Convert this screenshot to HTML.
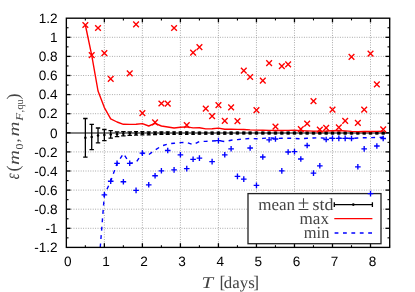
<!DOCTYPE html>
<html><head><meta charset="utf-8"><title>plot</title>
<style>html,body{margin:0;padding:0;background:#fff;}svg{display:block;will-change:transform;}text{font-family:"Liberation Sans",sans-serif;text-rendering:geometricPrecision;}.s{font-family:"Liberation Serif",serif;}</style></head><body>
<svg width="415" height="292" viewBox="0 0 415 292">
<rect width="415" height="292" fill="#fff"/>
<g stroke="#8c8c8c" stroke-width="0.8" stroke-dasharray="0.9 1.5" fill="none">
<line x1="104.37" y1="18.2" x2="104.37" y2="247.4"/>
<line x1="142.39" y1="18.2" x2="142.39" y2="247.4"/>
<line x1="180.41" y1="18.2" x2="180.41" y2="247.4"/>
<line x1="218.43" y1="18.2" x2="218.43" y2="247.4"/>
<line x1="256.45" y1="18.2" x2="256.45" y2="247.4"/>
<line x1="294.47" y1="18.2" x2="294.47" y2="247.4"/>
<line x1="332.49" y1="18.2" x2="332.49" y2="247.4"/>
<line x1="370.51" y1="18.2" x2="370.51" y2="247.4"/>
<line x1="66.35" y1="37.30" x2="389.7" y2="37.30"/>
<line x1="66.35" y1="56.40" x2="389.7" y2="56.40"/>
<line x1="66.35" y1="75.50" x2="389.7" y2="75.50"/>
<line x1="66.35" y1="94.60" x2="389.7" y2="94.60"/>
<line x1="66.35" y1="113.70" x2="389.7" y2="113.70"/>
<line x1="66.35" y1="132.80" x2="389.7" y2="132.80"/>
<line x1="66.35" y1="151.90" x2="389.7" y2="151.90"/>
<line x1="66.35" y1="171.00" x2="389.7" y2="171.00"/>
<line x1="66.35" y1="190.10" x2="389.7" y2="190.10"/>
<line x1="66.35" y1="209.20" x2="389.7" y2="209.20"/>
<line x1="66.35" y1="228.30" x2="389.7" y2="228.30"/>
</g>
<line x1="66.35" y1="133.00" x2="389.7" y2="133.00" stroke="#808080" stroke-width="1.8"/>
<g stroke="#000" stroke-width="1.3" fill="none">
<line x1="104.37" y1="247.4" x2="104.37" y2="243.20000000000002"/><line x1="104.37" y1="18.2" x2="104.37" y2="22.4"/>
<line x1="142.39" y1="247.4" x2="142.39" y2="243.20000000000002"/><line x1="142.39" y1="18.2" x2="142.39" y2="22.4"/>
<line x1="180.41" y1="247.4" x2="180.41" y2="243.20000000000002"/><line x1="180.41" y1="18.2" x2="180.41" y2="22.4"/>
<line x1="218.43" y1="247.4" x2="218.43" y2="243.20000000000002"/><line x1="218.43" y1="18.2" x2="218.43" y2="22.4"/>
<line x1="256.45" y1="247.4" x2="256.45" y2="243.20000000000002"/><line x1="256.45" y1="18.2" x2="256.45" y2="22.4"/>
<line x1="294.47" y1="247.4" x2="294.47" y2="243.20000000000002"/><line x1="294.47" y1="18.2" x2="294.47" y2="22.4"/>
<line x1="332.49" y1="247.4" x2="332.49" y2="243.20000000000002"/><line x1="332.49" y1="18.2" x2="332.49" y2="22.4"/>
<line x1="370.51" y1="247.4" x2="370.51" y2="243.20000000000002"/><line x1="370.51" y1="18.2" x2="370.51" y2="22.4"/>
<line x1="66.35" y1="37.30" x2="70.55" y2="37.30"/><line x1="389.7" y1="37.30" x2="385.5" y2="37.30"/>
<line x1="66.35" y1="56.40" x2="70.55" y2="56.40"/><line x1="389.7" y1="56.40" x2="385.5" y2="56.40"/>
<line x1="66.35" y1="75.50" x2="70.55" y2="75.50"/><line x1="389.7" y1="75.50" x2="385.5" y2="75.50"/>
<line x1="66.35" y1="94.60" x2="70.55" y2="94.60"/><line x1="389.7" y1="94.60" x2="385.5" y2="94.60"/>
<line x1="66.35" y1="113.70" x2="70.55" y2="113.70"/><line x1="389.7" y1="113.70" x2="385.5" y2="113.70"/>
<line x1="66.35" y1="132.80" x2="70.55" y2="132.80"/><line x1="389.7" y1="132.80" x2="385.5" y2="132.80"/>
<line x1="66.35" y1="151.90" x2="70.55" y2="151.90"/><line x1="389.7" y1="151.90" x2="385.5" y2="151.90"/>
<line x1="66.35" y1="171.00" x2="70.55" y2="171.00"/><line x1="389.7" y1="171.00" x2="385.5" y2="171.00"/>
<line x1="66.35" y1="190.10" x2="70.55" y2="190.10"/><line x1="389.7" y1="190.10" x2="385.5" y2="190.10"/>
<line x1="66.35" y1="209.20" x2="70.55" y2="209.20"/><line x1="389.7" y1="209.20" x2="385.5" y2="209.20"/>
<line x1="66.35" y1="228.30" x2="70.55" y2="228.30"/><line x1="389.7" y1="228.30" x2="385.5" y2="228.30"/>
</g>
<g stroke="#000" stroke-width="1.1" fill="none">
<line x1="85.36" y1="247.4" x2="85.36" y2="245.20000000000002"/><line x1="85.36" y1="18.2" x2="85.36" y2="20.4"/>
<line x1="123.38" y1="247.4" x2="123.38" y2="245.20000000000002"/><line x1="123.38" y1="18.2" x2="123.38" y2="20.4"/>
<line x1="161.40" y1="247.4" x2="161.40" y2="245.20000000000002"/><line x1="161.40" y1="18.2" x2="161.40" y2="20.4"/>
<line x1="199.42" y1="247.4" x2="199.42" y2="245.20000000000002"/><line x1="199.42" y1="18.2" x2="199.42" y2="20.4"/>
<line x1="237.44" y1="247.4" x2="237.44" y2="245.20000000000002"/><line x1="237.44" y1="18.2" x2="237.44" y2="20.4"/>
<line x1="275.46" y1="247.4" x2="275.46" y2="245.20000000000002"/><line x1="275.46" y1="18.2" x2="275.46" y2="20.4"/>
<line x1="313.48" y1="247.4" x2="313.48" y2="245.20000000000002"/><line x1="313.48" y1="18.2" x2="313.48" y2="20.4"/>
<line x1="351.50" y1="247.4" x2="351.50" y2="245.20000000000002"/><line x1="351.50" y1="18.2" x2="351.50" y2="20.4"/>
<line x1="389.52" y1="247.4" x2="389.52" y2="245.20000000000002"/><line x1="389.52" y1="18.2" x2="389.52" y2="20.4"/>
<line x1="66.35" y1="27.75" x2="68.55" y2="27.75"/><line x1="389.7" y1="27.75" x2="387.5" y2="27.75"/>
<line x1="66.35" y1="46.85" x2="68.55" y2="46.85"/><line x1="389.7" y1="46.85" x2="387.5" y2="46.85"/>
<line x1="66.35" y1="65.95" x2="68.55" y2="65.95"/><line x1="389.7" y1="65.95" x2="387.5" y2="65.95"/>
<line x1="66.35" y1="85.05" x2="68.55" y2="85.05"/><line x1="389.7" y1="85.05" x2="387.5" y2="85.05"/>
<line x1="66.35" y1="104.15" x2="68.55" y2="104.15"/><line x1="389.7" y1="104.15" x2="387.5" y2="104.15"/>
<line x1="66.35" y1="123.25" x2="68.55" y2="123.25"/><line x1="389.7" y1="123.25" x2="387.5" y2="123.25"/>
<line x1="66.35" y1="142.35" x2="68.55" y2="142.35"/><line x1="389.7" y1="142.35" x2="387.5" y2="142.35"/>
<line x1="66.35" y1="161.45" x2="68.55" y2="161.45"/><line x1="389.7" y1="161.45" x2="387.5" y2="161.45"/>
<line x1="66.35" y1="180.55" x2="68.55" y2="180.55"/><line x1="389.7" y1="180.55" x2="387.5" y2="180.55"/>
<line x1="66.35" y1="199.65" x2="68.55" y2="199.65"/><line x1="389.7" y1="199.65" x2="387.5" y2="199.65"/>
<line x1="66.35" y1="218.75" x2="68.55" y2="218.75"/><line x1="389.7" y1="218.75" x2="387.5" y2="218.75"/>
<line x1="66.35" y1="237.85" x2="68.55" y2="237.85"/><line x1="389.7" y1="237.85" x2="387.5" y2="237.85"/>
</g>
<clipPath id="c"><rect x="66.35" y="18.2" width="323.35" height="229.20"/></clipPath>
<g clip-path="url(#c)">
<g stroke="#000" stroke-width="1.3" fill="none">
<path d="M85.36 118.50V157.10M83.16 118.50H87.56M83.16 157.10H87.56"/>
<path d="M91.70 124.30V149.70M89.50 124.30H93.90M89.50 149.70H93.90"/>
<path d="M98.03 128.00V142.80M95.83 128.00H100.23M95.83 142.80H100.23"/>
<path d="M104.37 129.50V140.70M102.17 129.50H106.57M102.17 140.70H106.57"/>
<path d="M110.71 130.70V138.10M108.51 130.70H112.91M108.51 138.10H112.91"/>
<path d="M117.05 131.80V136.60M114.84 131.80H119.25M114.84 136.60H119.25"/>
<path d="M123.38 131.70V135.90M121.18 131.70H125.58M121.18 135.90H125.58"/>
<path d="M129.72 131.80V135.40M127.52 131.80H131.92M127.52 135.40H131.92"/>
<path d="M136.06 131.70V135.10M134.06 131.70H138.06M134.06 135.10H138.06"/>
<path d="M142.39 131.70V134.90M140.39 131.70H144.39M140.39 134.90H144.39"/>
<path d="M148.73 131.80V134.80M146.73 131.80H150.73M146.73 134.80H150.73"/>
<path d="M155.07 131.80V134.60M153.07 131.80H157.07M153.07 134.60H157.07"/>
<path d="M161.40 131.95V134.25M159.40 131.95H163.40M159.40 134.25H163.40"/>
<path d="M167.74 131.95V134.25M165.74 131.95H169.74M165.74 134.25H169.74"/>
<path d="M174.08 131.95V134.25M172.33 131.95H175.83M172.33 134.25H175.83"/>
<path d="M180.41 131.95V134.25M178.66 131.95H182.16M178.66 134.25H182.16"/>
<path d="M186.75 131.95V134.25M185.00 131.95H188.50M185.00 134.25H188.50"/>
<path d="M193.09 131.95V134.25M191.34 131.95H194.84M191.34 134.25H194.84"/>
<path d="M199.43 132.10V134.10M197.68 132.10H201.18M197.68 134.10H201.18"/>
<path d="M205.76 132.10V134.10M204.01 132.10H207.51M204.01 134.10H207.51"/>
<path d="M212.10 132.10V134.10M210.35 132.10H213.85M210.35 134.10H213.85"/>
<path d="M218.44 132.10V134.10M216.69 132.10H220.19M216.69 134.10H220.19"/>
<path d="M224.77 132.10V134.10M223.02 132.10H226.52M223.02 134.10H226.52"/>
<path d="M231.11 132.10V134.10M229.36 132.10H232.86M229.36 134.10H232.86"/>
<path d="M237.45 132.05V133.95M235.70 132.05H239.20M235.70 133.95H239.20"/>
<path d="M243.78 132.05V133.95M242.03 132.05H245.53M242.03 133.95H245.53"/>
<path d="M250.12 132.05V133.95M248.37 132.05H251.87M248.37 133.95H251.87"/>
<path d="M256.46 132.05V133.95M254.71 132.05H258.21M254.71 133.95H258.21"/>
<path d="M262.80 132.05V133.95M261.05 132.05H264.55M261.05 133.95H264.55"/>
<path d="M269.13 132.05V133.95M267.38 132.05H270.88M267.38 133.95H270.88"/>
<path d="M275.47 132.05V133.95M273.72 132.05H277.22M273.72 133.95H277.22"/>
<path d="M281.81 132.05V133.95M280.06 132.05H283.56M280.06 133.95H283.56"/>
<path d="M288.14 132.10V133.90M286.39 132.10H289.89M286.39 133.90H289.89"/>
<path d="M294.48 132.10V133.90M292.73 132.10H296.23M292.73 133.90H296.23"/>
<path d="M300.82 132.10V133.90M299.07 132.10H302.57M299.07 133.90H302.57"/>
<path d="M307.15 132.10V133.90M305.40 132.10H308.90M305.40 133.90H308.90"/>
<path d="M313.49 132.10V133.90M311.74 132.10H315.24M311.74 133.90H315.24"/>
<path d="M319.83 132.10V133.90M318.08 132.10H321.58M318.08 133.90H321.58"/>
<path d="M326.17 132.10V133.90M324.42 132.10H327.92M324.42 133.90H327.92"/>
<path d="M332.50 132.10V133.90M330.75 132.10H334.25M330.75 133.90H334.25"/>
<path d="M338.84 132.10V133.90M337.09 132.10H340.59M337.09 133.90H340.59"/>
<path d="M345.18 132.10V133.90M343.43 132.10H346.93M343.43 133.90H346.93"/>
<path d="M351.51 132.10V133.90M349.76 132.10H353.26M349.76 133.90H353.26"/>
<path d="M357.85 132.10V133.90M356.10 132.10H359.60M356.10 133.90H359.60"/>
<path d="M364.19 132.10V133.90M362.44 132.10H365.94M362.44 133.90H365.94"/>
<path d="M370.52 132.10V133.90M368.77 132.10H372.27M368.77 133.90H372.27"/>
<path d="M376.86 132.10V133.90M375.11 132.10H378.61M375.11 133.90H378.61"/>
<path d="M383.20 132.10V133.90M381.45 132.10H384.95M381.45 133.90H384.95"/>
</g>
<g fill="#000">
<circle cx="85.36" cy="137.80" r="1.25"/>
<circle cx="91.70" cy="137.00" r="1.25"/>
<circle cx="98.03" cy="135.40" r="1.25"/>
<circle cx="104.37" cy="135.10" r="1.25"/>
<circle cx="110.71" cy="134.40" r="1.25"/>
<circle cx="117.05" cy="134.20" r="1.25"/>
<circle cx="123.38" cy="133.80" r="1.25"/>
<circle cx="129.72" cy="133.60" r="1.25"/>
<circle cx="136.06" cy="133.40" r="1.55"/>
<circle cx="142.39" cy="133.30" r="1.55"/>
<circle cx="148.73" cy="133.30" r="1.55"/>
<circle cx="155.07" cy="133.20" r="1.55"/>
<circle cx="161.40" cy="133.10" r="1.55"/>
<circle cx="167.74" cy="133.10" r="1.55"/>
<circle cx="174.08" cy="133.10" r="1.55"/>
<circle cx="180.41" cy="133.10" r="1.55"/>
<circle cx="186.75" cy="133.10" r="1.55"/>
<circle cx="193.09" cy="133.10" r="1.55"/>
<circle cx="199.43" cy="133.10" r="1.55"/>
<circle cx="205.76" cy="133.10" r="1.55"/>
<circle cx="212.10" cy="133.10" r="1.55"/>
<circle cx="218.44" cy="133.10" r="1.55"/>
<circle cx="224.77" cy="133.10" r="1.55"/>
<circle cx="231.11" cy="133.10" r="1.55"/>
<circle cx="237.45" cy="133.00" r="1.55"/>
<circle cx="243.78" cy="133.00" r="1.55"/>
<circle cx="250.12" cy="133.00" r="1.55"/>
<circle cx="256.46" cy="133.00" r="1.55"/>
<circle cx="262.80" cy="133.00" r="1.55"/>
<circle cx="269.13" cy="133.00" r="1.55"/>
<circle cx="275.47" cy="133.00" r="1.55"/>
<circle cx="281.81" cy="133.00" r="1.55"/>
<circle cx="288.14" cy="133.00" r="1.55"/>
<circle cx="294.48" cy="133.00" r="1.55"/>
<circle cx="300.82" cy="133.00" r="1.55"/>
<circle cx="307.15" cy="133.00" r="1.55"/>
<circle cx="313.49" cy="133.00" r="1.55"/>
<circle cx="319.83" cy="133.00" r="1.55"/>
<circle cx="326.17" cy="133.00" r="1.55"/>
<circle cx="332.50" cy="133.00" r="1.55"/>
<circle cx="338.84" cy="133.00" r="1.55"/>
<circle cx="345.18" cy="133.00" r="1.55"/>
<circle cx="351.51" cy="133.00" r="1.55"/>
<circle cx="357.85" cy="133.00" r="1.55"/>
<circle cx="364.19" cy="133.00" r="1.55"/>
<circle cx="370.52" cy="133.00" r="1.55"/>
<circle cx="376.86" cy="133.00" r="1.55"/>
<circle cx="383.20" cy="133.00" r="1.55"/>
</g>
<polyline points="85.36,25.00 91.70,55.10 98.03,91.00 104.37,107.60 110.71,118.80 117.05,122.00 123.38,124.30 129.72,124.40 136.06,124.20 142.39,123.60 148.73,126.00 155.07,123.40 161.40,126.00 167.74,127.00 174.08,128.00 180.41,127.30 186.75,126.90 193.09,127.90 199.43,127.70 205.76,128.90 212.10,128.80 218.44,128.10 224.77,129.20 231.11,129.30 237.45,129.40 243.78,129.50 250.12,129.90 256.46,130.10 262.80,130.30 269.13,130.40 275.47,130.50 281.81,130.50 288.14,130.40 294.48,130.30 300.82,130.60 307.15,130.90 313.49,131.10 319.83,131.10 326.17,131.00 332.50,130.70 338.84,130.50 345.18,130.90 351.51,131.40 357.85,131.60 364.19,131.50 370.52,131.50 376.86,131.40 383.20,131.30" fill="none" stroke="#ff0000" stroke-width="1.4" stroke-linejoin="round"/>
<polyline points="100.25,247.4 104.37,195.00 110.71,181.20 117.05,163.40 123.38,153.60 129.72,163.30 136.06,162.50 142.39,153.10 148.73,154.60 155.07,150.00 161.40,146.00 167.74,144.00 174.08,143.20 180.41,142.60 186.75,142.50 193.09,144.60 199.43,141.40 205.76,141.40 212.10,141.00 218.44,140.60 224.77,141.60 231.11,140.20 237.45,139.60 243.78,139.00 250.12,138.50 256.46,138.80 262.80,138.40 269.13,137.90 275.47,138.40 281.81,138.30 288.14,138.20 294.48,138.40 300.82,138.80 307.15,138.30 313.49,138.00 319.83,137.80 326.17,138.30 332.50,138.30 338.84,138.30 345.18,138.30 351.51,138.40 357.85,138.00 364.19,137.70 370.52,137.70 376.86,137.40 383.20,137.30" fill="none" stroke="#0000ff" stroke-width="1.4" stroke-dasharray="3.9 4.5"/>
<g stroke="#ff0000" stroke-width="1.35" fill="none">
<path d="M82.51 22.15L88.21 27.85M82.51 27.85L88.21 22.15"/>
<path d="M88.85 52.25L94.55 57.95M88.85 57.95L94.55 52.25"/>
<path d="M95.18 25.15L100.88 30.85M95.18 30.85L100.88 25.15"/>
<path d="M101.52 50.25L107.22 55.95M101.52 55.95L107.22 50.25"/>
<path d="M107.86 76.05L113.56 81.75M107.86 81.75L113.56 76.05"/>
<path d="M126.87 70.45L132.57 76.15M126.87 76.15L132.57 70.45"/>
<path d="M133.21 21.45L138.91 27.15M133.21 27.15L138.91 21.45"/>
<path d="M139.54 110.25L145.24 115.95M139.54 115.95L145.24 110.25"/>
<path d="M152.22 119.45L157.92 125.15M152.22 125.15L157.92 119.45"/>
<path d="M158.55 100.65L164.25 106.35M158.55 106.35L164.25 100.65"/>
<path d="M164.89 100.75L170.59 106.45M164.89 106.45L170.59 100.75"/>
<path d="M171.23 25.15L176.93 30.85M171.23 30.85L176.93 25.15"/>
<path d="M183.90 122.25L189.60 127.95M183.90 127.95L189.60 122.25"/>
<path d="M190.24 49.75L195.94 55.45M190.24 55.45L195.94 49.75"/>
<path d="M196.58 44.25L202.28 49.95M196.58 49.95L202.28 44.25"/>
<path d="M202.91 105.75L208.61 111.45M202.91 111.45L208.61 105.75"/>
<path d="M209.25 113.25L214.95 118.95M209.25 118.95L214.95 113.25"/>
<path d="M215.59 102.25L221.29 107.95M215.59 107.95L221.29 102.25"/>
<path d="M221.92 118.05L227.62 123.75M221.92 123.75L227.62 118.05"/>
<path d="M228.26 104.45L233.96 110.15M228.26 110.15L233.96 104.45"/>
<path d="M234.60 118.25L240.30 123.95M234.60 123.95L240.30 118.25"/>
<path d="M240.93 67.75L246.63 73.45M240.93 73.45L246.63 67.75"/>
<path d="M247.27 74.15L252.97 79.85M247.27 79.85L252.97 74.15"/>
<path d="M253.61 107.25L259.31 112.95M253.61 112.95L259.31 107.25"/>
<path d="M259.95 77.75L265.65 83.45M259.95 83.45L265.65 77.75"/>
<path d="M266.28 60.25L271.98 65.95M266.28 65.95L271.98 60.25"/>
<path d="M272.62 123.85L278.32 129.55M272.62 129.55L278.32 123.85"/>
<path d="M278.96 63.25L284.66 68.95M278.96 68.95L284.66 63.25"/>
<path d="M285.29 61.55L290.99 67.25M285.29 67.25L290.99 61.55"/>
<path d="M297.97 126.25L303.67 131.95M297.97 131.95L303.67 126.25"/>
<path d="M304.30 120.75L310.00 126.45M304.30 126.45L310.00 120.75"/>
<path d="M310.64 98.25L316.34 103.95M310.64 103.95L316.34 98.25"/>
<path d="M316.98 126.75L322.68 132.45M316.98 132.45L322.68 126.75"/>
<path d="M323.32 125.05L329.02 130.75M323.32 130.75L329.02 125.05"/>
<path d="M329.65 106.85L335.35 112.55M329.65 112.55L335.35 106.85"/>
<path d="M335.99 124.55L341.69 130.25M335.99 130.25L341.69 124.55"/>
<path d="M342.33 118.05L348.03 123.75M342.33 123.75L348.03 118.05"/>
<path d="M348.66 54.05L354.36 59.75M348.66 59.75L354.36 54.05"/>
<path d="M355.00 120.05L360.70 125.75M355.00 125.75L360.70 120.05"/>
<path d="M361.34 106.75L367.04 112.45M361.34 112.45L367.04 106.75"/>
<path d="M367.67 50.75L373.38 56.45M367.67 56.45L373.38 50.75"/>
<path d="M374.01 81.55L379.71 87.25M374.01 87.25L379.71 81.55"/>
<path d="M380.35 126.55L386.05 132.25M380.35 132.25L386.05 126.55"/>
</g>
</g>
<rect x="248.0" y="193.6" width="133.0" height="50.099999999999994" fill="#fff" stroke="#222" stroke-width="1.3"/>
<g stroke="#0000ff" stroke-width="1.35" fill="none">
<path d="M101.57 194.90H107.17M104.37 192.10V197.70"/>
<path d="M107.91 181.20H113.51M110.71 178.40V184.00"/>
<path d="M114.25 163.30H119.84M117.05 160.50V166.10"/>
<path d="M120.58 181.70H126.18M123.38 178.90V184.50"/>
<path d="M126.92 163.30H132.52M129.72 160.50V166.10"/>
<path d="M133.26 190.40H138.86M136.06 187.60V193.20"/>
<path d="M139.59 153.10H145.19M142.39 150.30V155.90"/>
<path d="M145.93 184.80H151.53M148.73 182.00V187.60"/>
<path d="M152.27 175.70H157.87M155.07 172.90V178.50"/>
<path d="M158.60 170.80H164.20M161.40 168.00V173.60"/>
<path d="M164.94 150.50H170.54M167.74 147.70V153.30"/>
<path d="M171.28 169.90H176.88M174.08 167.10V172.70"/>
<path d="M177.61 154.80H183.22M180.41 152.00V157.60"/>
<path d="M183.95 168.60H189.55M186.75 165.80V171.40"/>
<path d="M190.29 159.30H195.89M193.09 156.50V162.10"/>
<path d="M196.63 158.10H202.23M199.43 155.30V160.90"/>
<path d="M209.30 161.60H214.90M212.10 158.80V164.40"/>
<path d="M215.64 140.60H221.24M218.44 137.80V143.40"/>
<path d="M221.97 154.80H227.57M224.77 152.00V157.60"/>
<path d="M228.31 148.80H233.91M231.11 146.00V151.60"/>
<path d="M234.65 176.40H240.25M237.45 173.60V179.20"/>
<path d="M240.98 179.10H246.58M243.78 176.30V181.90"/>
<path d="M247.32 148.00H252.92M250.12 145.20V150.80"/>
<path d="M253.66 185.40H259.26M256.46 182.60V188.20"/>
<path d="M260.00 157.00H265.60M262.80 154.20V159.80"/>
<path d="M266.33 139.80H271.93M269.13 137.00V142.60"/>
<path d="M272.67 139.00H278.27M275.47 136.20V141.80"/>
<path d="M279.01 170.90H284.61M281.81 168.10V173.70"/>
<path d="M285.34 152.00H290.94M288.14 149.20V154.80"/>
<path d="M291.68 151.60H297.28M294.48 148.80V154.40"/>
<path d="M298.02 159.00H303.62M300.82 156.20V161.80"/>
<path d="M304.35 145.50H309.95M307.15 142.70V148.30"/>
<path d="M310.69 173.10H316.29M313.49 170.30V175.90"/>
<path d="M317.03 165.80H322.63M319.83 163.00V168.60"/>
<path d="M323.37 139.50H328.97M326.17 136.70V142.30"/>
<path d="M329.70 138.40H335.30M332.50 135.60V141.20"/>
<path d="M336.04 138.40H341.64M338.84 135.60V141.20"/>
<path d="M342.38 138.40H347.98M345.18 135.60V141.20"/>
<path d="M348.71 138.50H354.31M351.51 135.70V141.30"/>
<path d="M355.05 166.80H360.65M357.85 164.00V169.60"/>
<path d="M361.39 148.90H366.99M364.19 146.10V151.70"/>
<path d="M367.72 193.60H373.32M370.52 190.80V196.40"/>
<path d="M374.06 146.00H379.66M376.86 143.20V148.80"/>
<path d="M380.40 138.50H386.00M383.20 135.70V141.30"/>
</g>
<rect x="66.35" y="18.2" width="323.35" height="229.20" fill="none" stroke="#000" stroke-width="1.35"/>
<g class="s" font-size="17" fill="#444">
<text class="s" x="258.2" y="209.5">mean</text>
<text class="s" x="303.6" y="210.3" text-anchor="middle" font-size="21">±</text>
<text class="s" x="312.5" y="209.5" textLength="21" lengthAdjust="spacingAndGlyphs">std</text>
<text class="s" x="299.6" y="223.6" textLength="29.4" lengthAdjust="spacingAndGlyphs">max</text>
<text class="s" x="303.8" y="237.7" textLength="25.6" lengthAdjust="spacingAndGlyphs">min</text>
</g>
<path d="M334.3 204.6H372.4M334.3 202.3V206.9M372.4 202.3V206.9" stroke="#000" stroke-width="1.3" fill="none"/>
<circle cx="353.3" cy="204.6" r="1.3" fill="#000"/>
<line x1="334.3" y1="218.6" x2="372.4" y2="218.6" stroke="#ff0000" stroke-width="1.4"/>
<line x1="334.6" y1="233" x2="372.4" y2="233" stroke="#0000ff" stroke-width="1.4" stroke-dasharray="3.8 4.6"/>
<g font-size="13.6" fill="#000" text-anchor="end">
<text x="57.6" y="22.95">1.2</text>
<text x="57.6" y="42.05">1</text>
<text x="57.6" y="61.15">0.8</text>
<text x="57.6" y="80.25">0.6</text>
<text x="57.6" y="99.35">0.4</text>
<text x="57.6" y="118.45">0.2</text>
<text x="57.6" y="137.55">0</text>
<text x="57.6" y="156.65">-0.2</text>
<text x="57.6" y="175.75">-0.4</text>
<text x="57.6" y="194.85">-0.6</text>
<text x="57.6" y="213.95">-0.8</text>
<text x="57.6" y="233.05">-1</text>
<text x="57.6" y="252.15">-1.2</text>
</g>
<g font-size="13.6" fill="#000" text-anchor="middle">
<text x="67.85" y="266.4">0</text>
<text x="105.95" y="266.4">1</text>
<text x="144.05" y="266.4">2</text>
<text x="182.15" y="266.4">3</text>
<text x="220.25" y="266.4">4</text>
<text x="258.35" y="266.4">5</text>
<text x="296.45" y="266.4">6</text>
<text x="334.55" y="266.4">7</text>
<text x="372.65" y="266.4">8</text>
</g>
<g class="s" font-size="16.5" fill="#444">
<text class="s" x="201.6" y="287.6" font-style="italic" textLength="11.6" lengthAdjust="spacingAndGlyphs">T</text>
<text class="s" x="219.6" y="287.6" font-size="17.5">[</text>
<text class="s" x="223.8" y="287.6" textLength="31" lengthAdjust="spacingAndGlyphs">days</text>
<text class="s" x="253.2" y="287.6" font-size="17.5">]</text>
</g>
<g class="s" fill="#444" transform="rotate(-90)">
<text class="s" x="-179.20" y="19.4" font-size="20" font-style="italic" textLength="5.90" lengthAdjust="spacingAndGlyphs">ε</text>
<text class="s" x="-171.60" y="19.2" font-size="18" textLength="6.00" lengthAdjust="spacingAndGlyphs">(</text>
<text class="s" x="-164.90" y="19.2" font-size="15.5" font-style="italic" textLength="14.90" lengthAdjust="spacingAndGlyphs">m</text>
<text class="s" x="-149.50" y="23.4" font-size="10.5" textLength="6.00" lengthAdjust="spacingAndGlyphs">0</text>
<text class="s" x="-142.60" y="19.2" font-size="15.5" textLength="4.00" lengthAdjust="spacingAndGlyphs">,</text>
<text class="s" x="-136.40" y="19.2" font-size="15.5" font-style="italic" textLength="14.90" lengthAdjust="spacingAndGlyphs">m</text>
<text class="s" x="-120.80" y="23.4" font-size="10.5" font-style="italic" textLength="7.80" lengthAdjust="spacingAndGlyphs">F</text>
<text class="s" x="-112.60" y="22.6" font-size="10.5" textLength="2.70" lengthAdjust="spacingAndGlyphs">,</text>
<text class="s" x="-109.50" y="22.6" font-size="10.5" textLength="9.90" lengthAdjust="spacingAndGlyphs">qu</text>
<text class="s" x="-99.40" y="19.2" font-size="18" textLength="6.00" lengthAdjust="spacingAndGlyphs">)</text>
</g>
</svg></body></html>
